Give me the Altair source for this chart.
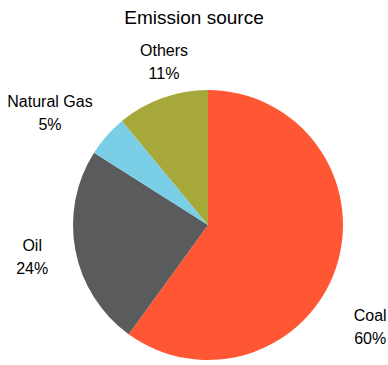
import altair as alt
import pandas as pd

categories = ["Coal", "Oil", "Natural Gas", "Others"]
shares = [60, 24, 5, 11]
colors = ["#FF5733", "#5A5B5D", "#7ACFE6", "#A6A83A"]

df = pd.DataFrame({
    "source": categories,
    "share": shares,
    "order": list(range(len(categories))),
})
df["label"] = df["source"] + "\n" + df["share"].astype(str) + "%"

FONT = "Liberation Sans"
theta_scale = alt.Scale(domain=[0, 100], range=[0, 6.283185307179586])

base = alt.Chart(df).transform_window(
    end="sum(share)", sort=[alt.SortField("order")], frame=[None, 0]
).transform_calculate(
    start="datum.end - datum.share",
    mid="datum.end - datum.share / 2",
)

arcs = base.mark_arc(outerRadius=135).encode(
    theta=alt.Theta("start:Q", scale=theta_scale),
    theta2="end:Q",
    color=alt.Color("source:N", scale=alt.Scale(domain=categories, range=colors), legend=None),
)

def label_layer(name, dx=0, dy=0):
    return base.mark_text(
        radius=180, font=FONT, fontSize=16, lineBreak="\n", lineHeight=23,
        color="#000000", align="center", baseline="middle", dx=dx, dy=dy - 11,
    ).encode(
        theta=alt.Theta("mid:Q", scale=theta_scale),
        text="label:N",
    ).transform_filter(alt.datum.source == name)

labels = [
    label_layer("Coal", -9, 46),
    label_layer("Oil", 1, -2),
    label_layer("Natural Gas", -23, 7),
    label_layer("Others", 17, 6),
]

chart = alt.layer(arcs, *labels).properties(
    width=360,
    height=280,
    padding={"left": 28, "top": 85, "right": 0, "bottom": 0},
    autosize=alt.AutoSizeParams(type="none"),
    title=alt.TitleParams("Emission source", font=FONT, fontSize=19, fontWeight="normal",
                          color="#000000", anchor="middle", dx=-14, offset=15),
).configure_view(stroke=None)

chart.save("out.html", embed_options={"renderer": "svg", "actions": False})
